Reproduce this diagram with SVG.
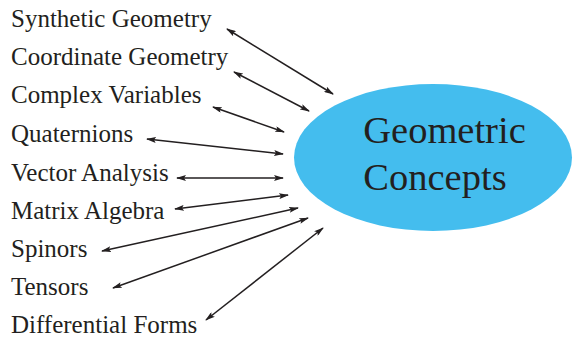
<svg xmlns="http://www.w3.org/2000/svg" width="573" height="337" viewBox="0 0 573 337">
<style>
.lbl{font-family:"Liberation Serif","Times New Roman",serif;font-size:25px;fill:#231f20}
.big{font-family:"Liberation Serif","Times New Roman",serif;font-size:38.5px;fill:#231f20;text-anchor:middle}
.c{stroke:#231f20;stroke-width:1.5;fill:none;marker-start:url(#ah);marker-end:url(#ah)}
</style>
<defs>
<marker id="ah" viewBox="0 0 10 6" refX="9" refY="3" markerWidth="10" markerHeight="6" markerUnits="userSpaceOnUse" orient="auto-start-reverse">
<path d="M0,0 L10,3 L0,6 L2,3 Z" fill="#231f20"/>
</marker>
</defs>
<rect width="573" height="337" fill="#ffffff"/>
<g id="center">
<ellipse cx="433" cy="157.5" rx="139" ry="73.5" fill="#44bdee"/>
<text class="big" x="444.5" y="143">Geometric</text>
<text class="big" x="435" y="190">Concepts</text>
</g>
<g id="n1"><text class="lbl" x="11" y="27">Synthetic Geometry</text></g>
<g id="n2"><text class="lbl" x="11" y="65">Coordinate Geometry</text></g>
<g id="n3"><text class="lbl" x="11" y="103">Complex Variables</text></g>
<g id="n4"><text class="lbl" x="11" y="142">Quaternions</text></g>
<g id="n5"><text class="lbl" x="11" y="181">Vector Analysis</text></g>
<g id="n6"><text class="lbl" x="11" y="219">Matrix Algebra</text></g>
<g id="n7"><text class="lbl" x="11" y="257">Spinors</text></g>
<g id="n8"><text class="lbl" x="11" y="295">Tensors</text></g>
<g id="n9"><text class="lbl" x="11" y="333">Differential Forms</text></g>
<g id="connectors">
<line class="c" x1="227" y1="29" x2="333" y2="94"/>
<line class="c" x1="234" y1="72" x2="309" y2="111"/>
<line class="c" x1="213" y1="107" x2="284" y2="132"/>
<line class="c" x1="147" y1="139" x2="283" y2="154"/>
<line class="c" x1="177" y1="178" x2="283" y2="178"/>
<line class="c" x1="175" y1="209" x2="288" y2="195"/>
<line class="c" x1="102" y1="251" x2="298" y2="208"/>
<line class="c" x1="113" y1="288" x2="308" y2="218"/>
<line class="c" x1="206" y1="320" x2="323" y2="228"/>
</g>
</svg>
